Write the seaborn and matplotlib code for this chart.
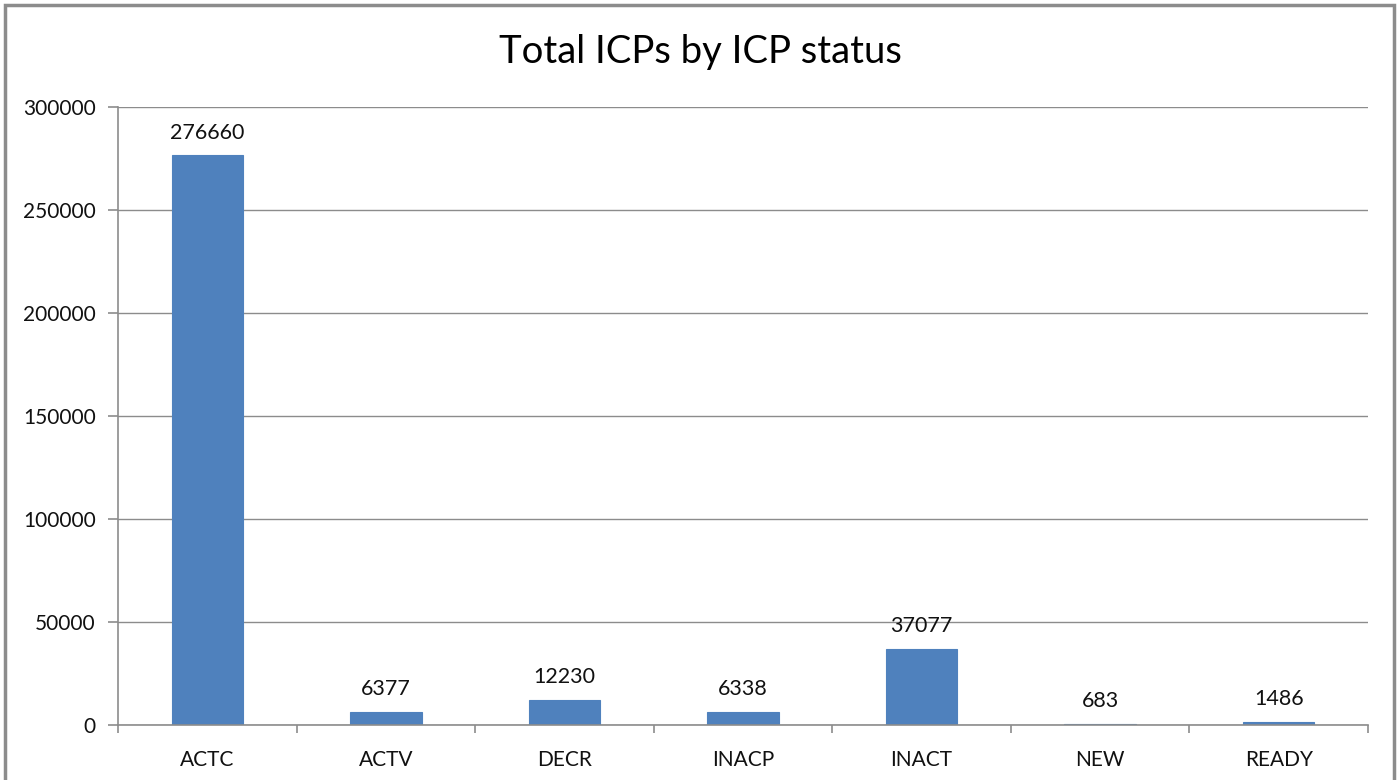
import matplotlib
matplotlib.use("Agg")
import matplotlib.pyplot as plt
import seaborn as sns
import pandas as pd
from matplotlib.patches import Rectangle

categories = ["ACTC", "ACTV", "DECR", "INACP", "INACT", "NEW", "READY"]
values = [276660, 6377, 12230, 6338, 37077, 683, 1486]
yticks = [0, 50000, 100000, 150000, 200000, 250000, 300000]
title = "Total ICPs by ICP status"

sns.set_theme(style="white")
plt.rcParams["font.family"] = ["Lato", "DejaVu Sans"]

df = pd.DataFrame({"status": categories, "count": values})

fig = plt.figure(figsize=(14, 7.8), dpi=100)
ax = fig.add_axes([118/1400, 1-725/780, 1250/1400, 618/780])

sns.barplot(data=df, x="status", y="count", color="#4F81BD", width=0.4,
            saturation=1, ax=ax, edgecolor="#4F81BD", linewidth=0.8)

ax.set_xlim(-0.5, len(categories) - 0.5)
ax.set_ylim(0, 300000)
ax.set_yticks(yticks)
ax.set_yticklabels([str(v) for v in yticks], fontsize=15, color="#111111")
ax.set_xticks(range(len(categories)))
ax.set_xticklabels(categories, fontsize=15, color="#111111")
ax.set_xlabel("")
ax.set_ylabel("")
ax.yaxis.grid(True, color="#8c8c8c", linewidth=1)
ax.set_axisbelow(True)

for s in ["top", "right"]:
    ax.spines[s].set_visible(False)
for s in ["left", "bottom"]:
    ax.spines[s].set_color("#8c8c8c")
    ax.spines[s].set_linewidth(1.2)

ax.tick_params(axis="y", length=7, color="#8c8c8c", width=1.2, pad=9, left=True)
ax.tick_params(axis="x", length=0, pad=18, bottom=False)
# category boundary ticks
ax.set_xticks([i - 0.5 for i in range(len(categories) + 1)], minor=True)
ax.tick_params(axis="x", which="minor", length=6, color="#8c8c8c", width=1.2, bottom=True)

for i, v in enumerate(values):
    ax.annotate(str(v), (i, v), xytext=(0, 9), textcoords="offset points",
                ha="center", va="bottom", fontsize=15.5, color="#111111")

fig.text(0.5, 1 - 52/780, title, ha="center", va="center", fontsize=27.5, color="black")

fig.patches.append(Rectangle((5/1400, -0.05), 1389/1400, 1.05 - 5/780,
                             transform=fig.transFigure, fill=False,
                             edgecolor="#8c8c8c", linewidth=2.5))

fig.savefig("out.png", dpi=100)
